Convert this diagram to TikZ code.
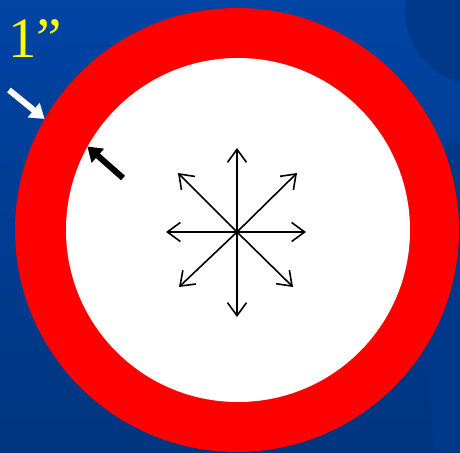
\documentclass[tikz,border=0pt]{standalone}
\usepackage{fontspec}
\setmainfont{Liberation Serif}
\usepackage{tikz}
\usetikzlibrary{arrows.meta}
\definecolor{bgtop}{HTML}{0044A4}
\definecolor{bgbot}{HTML}{00357F}
\definecolor{bgdark}{HTML}{00398A}
\definecolor{ringred}{HTML}{FF0000}
\definecolor{label}{HTML}{FFFF00}

\begin{document}
\begin{tikzpicture}[
  x=1pt, y=-1pt,
  disc/.style={circle, inner sep=0pt, draw=none},
  ray/.style={-{Straight Barb[length=13pt,width=19pt]}, line width=1.6pt, draw=black},
  pointer/.style={-{Triangle[length=14pt,width=18pt]}, line width=6pt},
]
% background with darker swirls on the right
\useasboundingbox (0,0) rectangle (460,452);
\shade[top color=bgtop, bottom color=bgbot] (0,0) rectangle (460,452);
\begin{scope}
\clip (0,0) rectangle (460,452);
\fill[bgdark] (480,10) circle (75);
\fill[bgdark] (447,143) -- (460,143) -- (460,452) -- (435,452)
  .. controls (420,330) and (440,220) .. (447,143) -- cycle;
\end{scope}

% red ring with white hole
\node[disc, fill=ringred, minimum size=444pt] (ring) at (237,230) {};
\node[disc, fill=white, minimum size=344pt] (hole) at (238,230) {};

% label and the two pointers
\node[text=label, font=\fontsize{57}{60}\selectfont, anchor=base west, inner sep=0pt] (size) at (8,57) {1”};
\coordinate (wtail) at (9,90);
\coordinate (btail) at (123,178);
\draw[pointer, white] (wtail) -- (ring.150);
\draw[pointer, black] (btail) -- (hole.151);

% radial arrows
\coordinate (c) at (237,232);
\foreach \n/\p in {n/{237,148}, s/{237,317}, w/{166,232}, e/{306,232},
                   ne/{297,173}, nw/{178,173}, sw/{179,287}, se/{293,287}}
  \coordinate (tip\n) at (\p);
\foreach \n in {n,s,w,e,ne,nw,sw,se} \draw[ray] (c) -- (tip\n);
\end{tikzpicture}
\end{document}
